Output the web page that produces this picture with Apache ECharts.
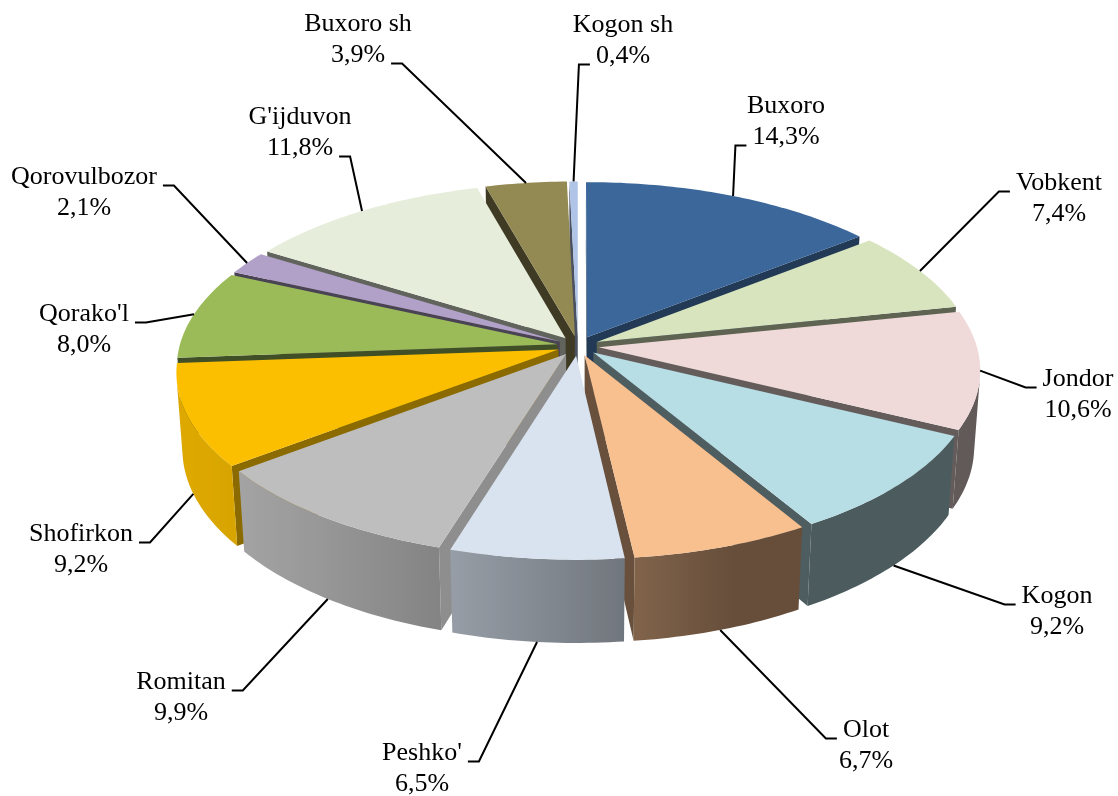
<!DOCTYPE html>
<html>
<head>
<meta charset="utf-8">
<title>Hududlar ulushi</title>
<script src="https://cdn.jsdelivr.net/npm/echarts@6/dist/echarts.min.js"></script>
<style>
  html, body { margin: 0; padding: 0; background: #fff; }
  #chart { width: 1118px; height: 796px; }
</style>
</head>
<body>
<div id="chart"></div>
<script>
// slices clockwise from 12 o'clock
const regions = ['Buxoro', 'Vobkent', 'Jondor', 'Kogon', 'Olot', "Peshko'", 'Romitan', 'Shofirkon', "Qorako'l", 'Qorovulbozor', "G'ijduvon", 'Buxoro sh', 'Kogon sh'];
const shares = [14.3, 7.4, 10.6, 9.2, 6.7, 6.5, 9.9, 9.2, 8.0, 2.1, 11.8, 3.9, 0.4];
const colors = ['#3C679A', '#D7E4BD', '#EFDAD9', '#B7DDE5', '#F8BF8F', '#D9E3F0', '#BEBEBE', '#FBBF00', '#9BBB59', '#B1A0C7', '#E6EDDA', '#938953', '#B0C4E8'];

// label block centres, px (layout only)
const labelPos = [[786, 122], [1059, 199], [1078, 395], [1057, 612], [866, 746], [422, 769], [181, 698], [81, 550], [84, 330], [84, 193], [300, 133], [358, 40], [623, 41]];

// view: simple perspective of a tilted disc of radius 1
const CX = 578, CY = 346, SCALE = 378;
const TILT = 27.8 * Math.PI / 180, SIN = Math.sin(TILT), COS = Math.cos(TILT);
const DIST = 7.19;      // camera distance, in radii
const DEPTH = 0.23;     // pie thickness
const EXPLODE = 0.055;
const FONT = '26px "Liberation Serif"';
const LINE_GAP = 31;

function proj(X, Y, H) {
  const v = Y * SIN - H * COS;
  const w = Y * COS + H * SIN;
  const k = SCALE * DIST / (DIST - w);
  return [CX + X * k, CY + v * k];
}

function area(p) {
  let a = 0;
  for (let i = 0; i < p.length; i++) {
    const q = p[(i + 1) % p.length];
    a += p[i][0] * q[1] - q[0] * p[i][1];
  }
  return a;
}

function shade(hex, f) {
  const n = parseInt(hex.slice(1), 16);
  const r = Math.round(((n >> 16) & 255) * f), g = Math.round(((n >> 8) & 255) * f), b = Math.round((n & 255) * f);
  return 'rgb(' + r + ',' + g + ',' + b + ')';
}
const wallF = a => 0.41 + 0.47 * Math.max(0, Math.cos(a - 250 * Math.PI / 180));
const radialF = a => 0.42 + 0.36 * Math.pow(Math.max(0, Math.sin(a)), 2);

const ctx = document.createElement('canvas').getContext('2d');
ctx.font = FONT;
const textW = t => ctx.measureText(t).width;
const fmt = v => v.toFixed(1).replace('.', ',') + '%';

const total = shares.reduce((a, b) => a + b, 0);
let acc = 0;
const slices = shares.map(v => {
  const a0 = acc / total * 2 * Math.PI;
  acc += v;
  const a1 = acc / total * 2 * Math.PI;
  const mid = (a0 + a1) / 2;
  return { a0, a1, mid, ox: EXPLODE * Math.sin(mid), oy: -EXPLODE * Math.cos(mid) };
});
// back to front
slices.map((s, i) => i)
  .sort((p, q) => (slices[p].oy - 0.5 * Math.cos(slices[p].mid)) - (slices[q].oy - 0.5 * Math.cos(slices[q].mid)))
  .forEach((idx, r) => { slices[idx].rank = r; });

const pieTop = proj(0, -1 - EXPLODE, 0)[1];

function renderItem(params, api) {
  const i = params.dataIndex;
  const s = slices[i];
  const col = colors[i];
  const base = s.rank * 10;
  const n = Math.max(2, Math.ceil((s.a1 - s.a0) / (Math.PI / 180)));
  const top = [], bot = [], angs = [];
  for (let k = 0; k <= n; k++) {
    const a = s.a0 + (s.a1 - s.a0) * k / n;
    const X = s.ox + Math.sin(a), Y = s.oy - Math.cos(a);
    top.push(proj(X, Y, 0));
    bot.push(proj(X, Y, -DEPTH));
    angs.push(a);
  }
  const tipT = proj(s.ox, s.oy, 0), tipB = proj(s.ox, s.oy, -DEPTH);
  const children = [];

  const startQ = [tipT, top[0], bot[0], tipB];
  const endQ = [tipT, tipB, bot[n], top[n]];
  if (area(startQ) < 0) {
    children.push({ type: 'polygon', z2: base + 1, shape: { points: startQ }, style: { fill: shade(col, radialF(s.a0 - Math.PI / 2)) } });
  }
  if (area(endQ) < 0) {
    children.push({ type: 'polygon', z2: base + 1, shape: { points: endQ }, style: { fill: shade(col, radialF(s.a1 + Math.PI / 2)) } });
  }

  // outer wall, only the part facing the camera
  let first = -1, last = -1;
  for (let k = 0; k < n; k++) {
    if (area([top[k], top[k + 1], bot[k + 1], bot[k]]) < 0) {
      if (first < 0) first = k;
      last = k;
    }
  }
  if (first >= 0) {
    const tp = top.slice(first, last + 2), bp = bot.slice(first, last + 2);
    const xs = tp.map(p => p[0]);
    const minX = Math.min(...xs), maxX = Math.max(...xs);
    let fill = shade(col, wallF(angs[first]));
    if (maxX - minX > 2) {
      const stops = tp.map((p, k) => ({ offset: (p[0] - minX) / (maxX - minX), color: shade(col, wallF(angs[first + k])) }))
        .sort((a, b) => a.offset - b.offset);
      fill = { type: 'linear', x: minX, y: 0, x2: maxX, y2: 0, global: true, colorStops: stops };
    }
    children.push({ type: 'polygon', z2: base + 1, shape: { points: tp.concat(bp.reverse()) }, style: { fill } });
  }

  children.push({ type: 'polygon', z2: base + 2, shape: { points: [tipT].concat(top) }, style: { fill: col } });

  // leader line from the label to the slice
  const lines = [regions[i], fmt(shares[i])];
  const [lx, ly] = labelPos[i];
  const Yc = s.oy - Math.cos(s.mid);
  const t = Math.min(1, Math.max(0, (Yc - 0.13) / 0.2));
  const anc = proj(s.ox + Math.sin(s.mid), Yc, -DEPTH * t);
  const li = (ly + LINE_GAP < pieTop) ? 1 : 0;
  const ey = ly + (li ? 1 : -1) * LINE_GAP / 2 + 8;
  const half = textW(lines[li]) / 2;
  const onLeft = anc[0] < lx;
  const ex = onLeft ? lx - half - 6 : lx + half + 6;
  const bx = onLeft ? ex - 11 : ex + 11;
  children.push({
    type: 'polyline', z2: 590,
    shape: { points: [[ex, ey], [bx, ey], anc] },
    style: { stroke: '#000', lineWidth: 2, fill: null }
  });

  return { type: 'group', children };
}

// data labels: name line and percent line
const labels = [];
regions.forEach((name, i) => {
  [name, fmt(shares[i])].forEach((txt, j) => {
    labels.push({
      type: 'text', z: 10, silent: true,
      style: {
        text: txt, x: labelPos[i][0], y: labelPos[i][1] + (j ? 1 : -1) * LINE_GAP / 2,
        align: 'center', verticalAlign: 'middle', font: FONT, fill: '#000'
      }
    });
  });
});

const chart = echarts.init(document.getElementById('chart'));
chart.setOption({
  backgroundColor: '#fff',
  animation: false,
  graphic: labels,
  series: [{
    type: 'custom',
    coordinateSystem: 'none',
    silent: true,
    renderItem: renderItem,
    data: shares.map((v, i) => ({ name: regions[i], value: [i, v] }))
  }]
});
</script>
</body>
</html>
